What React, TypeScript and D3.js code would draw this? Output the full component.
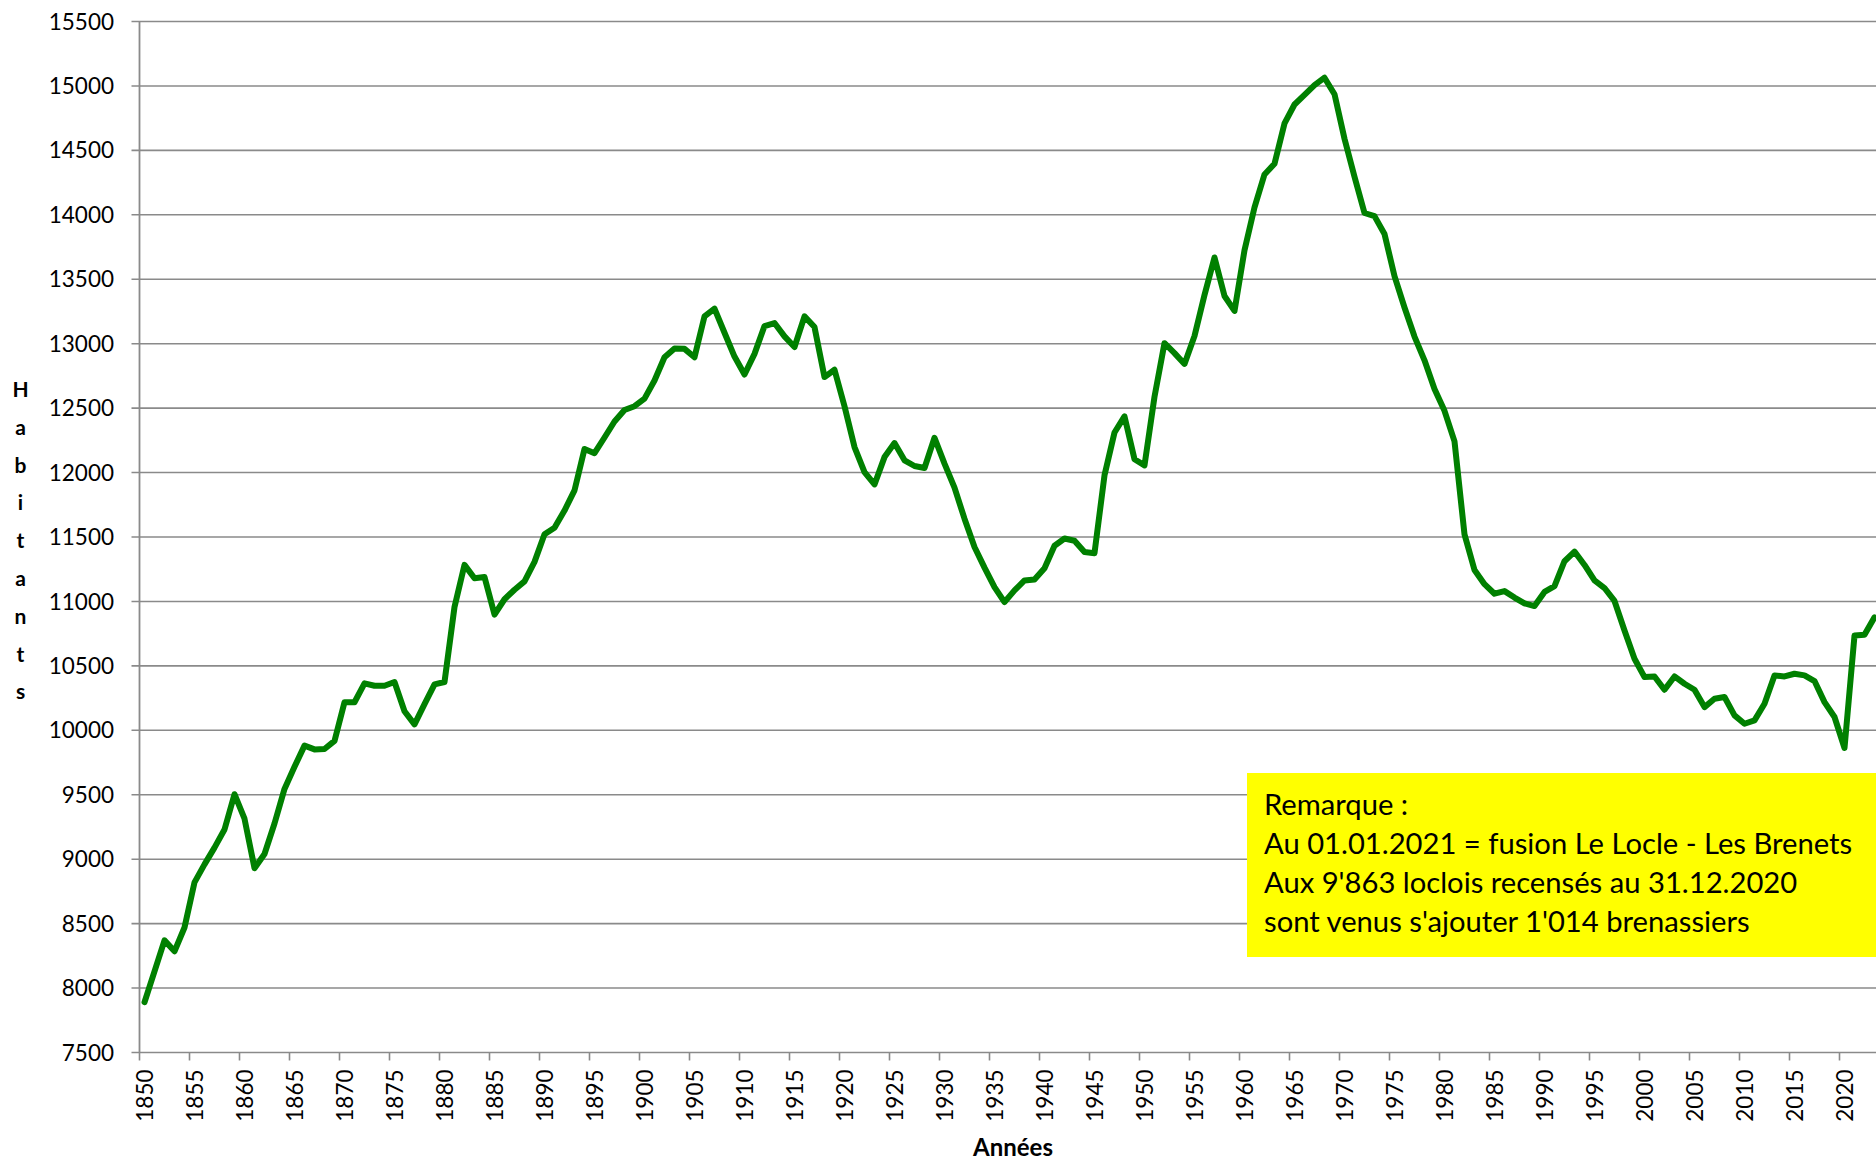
import React from "react";
import * as d3 from "d3";

const startYear = 1850;
const population: number[] = [
  7890, 8130, 8370, 8285, 8470, 8820, 8960, 9090, 9230, 9504,
  9314, 8930, 9040, 9277, 9545, 9717, 9881, 9852, 9855, 9918,
  10218, 10218, 10364, 10346, 10346, 10375, 10148, 10046, 10203, 10357,
  10375, 10957, 11284, 11180, 11189, 10898, 11017, 11091, 11156, 11307,
  11521, 11571, 11705, 11862, 12183, 12150, 12272, 12396, 12485, 12515,
  12574, 12714, 12895, 12963, 12960, 12895, 13212, 13272, 13085, 12900,
  12761, 12921, 13137, 13160, 13057, 12974, 13212, 13129, 12741, 12798,
  12514, 12198, 12004, 11908, 12120, 12229, 12095, 12051, 12035, 12270,
  12069, 11883, 11642, 11422, 11262, 11111, 10995, 11086, 11163, 11171,
  11258, 11432, 11488, 11471, 11383, 11374, 11979, 12311, 12436, 12103,
  12056, 12588, 13004, 12927, 12843, 13060, 13378, 13669, 13370, 13254,
  13725, 14058, 14313, 14396, 14709, 14856, 14931, 15006, 15064, 14936,
  14590, 14296, 14014, 13990, 13851, 13524, 13281, 13055, 12871, 12649,
  12479, 12242, 11520, 11244, 11134, 11060, 11080, 11030, 10985, 10964,
  11074, 11119, 11312, 11387, 11283, 11164, 11104, 11004, 10775, 10555,
  10413, 10418, 10315, 10418, 10361, 10315, 10180, 10245, 10258, 10116,
  10051, 10077, 10206, 10426, 10418, 10439, 10426, 10382, 10219, 10103,
  9863, 10736, 10741, 10877,
];
const years: number[] = population.map((_, i) => startYear + i);
const yTicks: number[] = d3.range(7500, 15501, 500);
const xTickYears: number[] = years.filter((y) => y % 5 === 0);
const yTitle = "Habitants";
const xTitle = "Années";
const noteLines: string[] = [
  "Remarque :",
  "Au 01.01.2021 = fusion Le Locle - Les Brenets",
  "Aux 9'863 loclois recensés au 31.12.2020",
  "sont venus s'ajouter 1'014 brenassiers",
];

const W = 1876;
const H = 1160;
const FONT = "Lato, 'Open Sans', sans-serif";

export default function App() {
  const left = 139.5;
  const x = d3
    .scaleBand<number>()
    .domain(years)
    .range([left, left + years.length * 10])
    .padding(0);
  const y = d3.scaleLinear().domain([7500, 15500]).range([1052.5, 21.5]);
  const cx = (yr: number) => (x(yr) as number) + x.bandwidth() / 2;
  const line = d3
    .line<number>()
    .x((_, i) => cx(years[i]))
    .y((d) => y(d));
  const grid = "#8a8a8a";

  return (
    <svg
      width={W}
      height={H}
      style={{ position: "absolute", left: 0, top: 0, background: "#fff" }}
      fontFamily={FONT}
    >
      <rect x={0} y={0} width={W} height={H} fill="#fff" />
      {yTicks.map((t) => (
        <g key={t}>
          <line x1={left - 8} x2={W} y1={y(t)} y2={y(t)} stroke={grid} strokeWidth={1.6} />
          <text x={114} y={y(t)} dy="0.36em" textAnchor="end" fontSize={22.5} fill="#000">
            {t}
          </text>
        </g>
      ))}
      <line x1={left} x2={left} y1={y(15500)} y2={y(7500)} stroke={grid} strokeWidth={1.8} />
      {xTickYears.map((yr) => (
        <g key={yr}>
          <line
            x1={x(yr) as number}
            x2={x(yr) as number}
            y1={y(7500)}
            y2={y(7500) + 8}
            stroke={grid}
            strokeWidth={1.6}
          />
          <text
            transform={`translate(${cx(yr)},${y(7500) + 17}) rotate(-90)`}
            textAnchor="end"
            dy="0.36em"
            fontSize={22.5}
            fill="#000"
          >
            {yr}
          </text>
        </g>
      ))}
      <path
        d={line(population) as string}
        fill="none"
        stroke="#008000"
        strokeWidth={6}
        strokeLinejoin="round"
        strokeLinecap="round"
      />
      <rect x={1247} y={773} width={W - 1247} height={184} fill="#ffff00" />
      {noteLines.map((s, i) => (
        <text key={i} x={1264} y={815 + i * 39} fontSize={29.2} fill="#000">
          {s}
        </text>
      ))}
      {yTitle.split("").map((c, i) => (
        <text
          key={i}
          x={20.5}
          y={397 + i * 37.8}
          textAnchor="middle"
          fontSize={21}
          fontWeight="bold"
          fill="#000"
        >
          {c}
        </text>
      ))}
      <text x={1013} y={1156} textAnchor="middle" fontSize={24} fontWeight="bold" fill="#000">
        {xTitle}
      </text>
    </svg>
  );
}
